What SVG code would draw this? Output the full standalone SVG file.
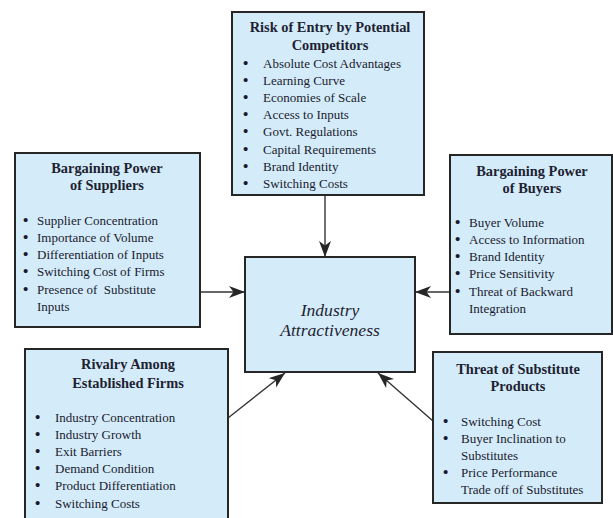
<svg xmlns="http://www.w3.org/2000/svg" width="613" height="518" viewBox="0 0 613 518">
<defs>
<style>
.box{fill:#d4ecf9;stroke:#262626;stroke-width:2}
.t{font-family:"Liberation Serif","Times New Roman",serif;font-weight:bold;font-size:14.4px;fill:#1f1f33;text-anchor:middle}
.i{font-family:"Liberation Serif","Times New Roman",serif;font-size:13px;fill:#1a1a2e}
.b{font-weight:bold;font-size:15px}
.c{font-family:"Liberation Serif","Times New Roman",serif;font-style:italic;font-size:17.6px;fill:#1f1f33;text-anchor:middle}
.ln{stroke:#333;stroke-width:1.4;fill:none;marker-end:url(#ah)}
</style>
<marker id="ah" markerUnits="userSpaceOnUse" markerWidth="17" markerHeight="13" refX="16" refY="6" orient="auto">
<path d="M0,0 L16,6 L0,12 L4.5,6 z" fill="#262626"/>
</marker>
</defs>
<rect width="613" height="518" fill="#fff"/>
<g id="connectors">
<line class="ln" x1="325" y1="196" x2="325" y2="257"/>
<line class="ln" x1="201" y1="292" x2="245" y2="292"/>
<line class="ln" x1="450" y1="292" x2="415" y2="292"/>
<line class="ln" x1="228" y1="418" x2="285" y2="373"/>
<line class="ln" x1="433" y1="421" x2="378" y2="373"/>
</g>
<g id="entry">
<rect class="box" x="232" y="12" width="192" height="183"/>
<text class="t" x="330" y="32">Risk of Entry by Potential</text>
<text class="t" x="330" y="50">Competitors</text>
<g class="i">
<text class="b" x="243" y="68">•</text><text x="263" y="68">Absolute Cost Advantages</text>
<text class="b" x="243" y="85">•</text><text x="263" y="85">Learning Curve</text>
<text class="b" x="243" y="102">•</text><text x="263" y="102">Economies of Scale</text>
<text class="b" x="243" y="119">•</text><text x="263" y="119">Access to Inputs</text>
<text class="b" x="243" y="136">•</text><text x="263" y="136">Govt. Regulations</text>
<text class="b" x="243" y="154">•</text><text x="263" y="154">Capital Requirements</text>
<text class="b" x="243" y="171">•</text><text x="263" y="171">Brand Identity</text>
<text class="b" x="243" y="188">•</text><text x="263" y="188">Switching Costs</text>
</g>
</g>
<g id="suppliers">
<rect class="box" x="15" y="153" width="185" height="174"/>
<text class="t" x="107" y="173">Bargaining Power</text>
<text class="t" x="107" y="190">of Suppliers</text>
<g class="i">
<text class="b" x="23" y="225">•</text><text x="37" y="225">Supplier Concentration</text>
<text class="b" x="23" y="242">•</text><text x="37" y="242">Importance of Volume</text>
<text class="b" x="23" y="259">•</text><text x="37" y="259">Differentiation of Inputs</text>
<text class="b" x="23" y="276">•</text><text x="37" y="276">Switching Cost of Firms</text>
<text class="b" x="23" y="294">•</text><text x="37" y="294" xml:space="preserve">Presence of  Substitute</text>
<text x="37" y="311">Inputs</text>
</g>
</g>
<g id="buyers">
<rect class="box" x="450" y="155" width="162" height="179"/>
<text class="t" x="532" y="176">Bargaining Power</text>
<text class="t" x="532" y="193">of Buyers</text>
<g class="i">
<text class="b" x="455" y="227">•</text><text x="469" y="227">Buyer Volume</text>
<text class="b" x="455" y="244">•</text><text x="469" y="244">Access to Information</text>
<text class="b" x="455" y="261">•</text><text x="469" y="261">Brand Identity</text>
<text class="b" x="455" y="278">•</text><text x="469" y="278">Price Sensitivity</text>
<text class="b" x="455" y="296">•</text><text x="469" y="296">Threat of Backward</text>
<text x="469" y="313">Integration</text>
</g>
</g>
<g id="center">
<rect class="box" x="245" y="257" width="170" height="115"/>
<text class="c" x="330" y="316">Industry</text>
<text class="c" x="330" y="336">Attractiveness</text>
</g>
<g id="rivalry">
<rect class="box" x="25" y="349" width="203" height="176"/>
<text class="t" x="128" y="369">Rivalry Among</text>
<text class="t" x="128" y="388">Established Firms</text>
<g class="i">
<text class="b" x="35" y="422">•</text><text x="55" y="422">Industry Concentration</text>
<text class="b" x="35" y="439">•</text><text x="55" y="439">Industry Growth</text>
<text class="b" x="35" y="456">•</text><text x="55" y="456">Exit Barriers</text>
<text class="b" x="35" y="473">•</text><text x="55" y="473">Demand Condition</text>
<text class="b" x="35" y="490">•</text><text x="55" y="490">Product Differentiation</text>
<text class="b" x="35" y="508">•</text><text x="55" y="508">Switching Costs</text>
</g>
</g>
<g id="substitutes">
<rect class="box" x="433" y="352" width="169" height="151"/>
<text class="t" x="518" y="374">Threat of Substitute</text>
<text class="t" x="518" y="391">Products</text>
<g class="i">
<text class="b" x="443" y="426">•</text><text x="461" y="426">Switching Cost</text>
<text class="b" x="443" y="443">•</text><text x="461" y="443">Buyer Inclination to</text>
<text x="461" y="460">Substitutes</text>
<text class="b" x="443" y="477">•</text><text x="461" y="477">Price Performance</text>
<text x="461" y="494">Trade off of Substitutes</text>
</g>
</g>
</svg>
